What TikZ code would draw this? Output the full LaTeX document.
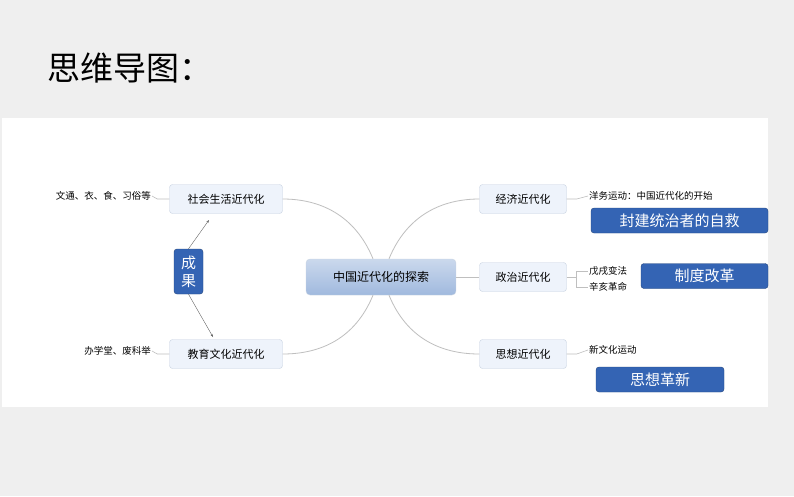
\documentclass[tikz,border=0pt]{standalone}
\usepackage{fontspec}
\setmainfont{Noto Sans CJK SC}
\usetikzlibrary{arrows.meta}
\definecolor{pagebg}{RGB}{239,239,239}
\definecolor{branchfill}{RGB}{238,243,251}
\definecolor{branchline}{RGB}{200,210,225}
\definecolor{rootfill}{RGB}{160,185,222}
\definecolor{tagblue}{RGB}{52,100,180}
\tikzset{
  branch/.style={draw=branchline,fill=branchfill,rounded corners=3pt,minimum width=113pt,minimum height=29pt,font=\fontsize{11}{13}\selectfont},
  rbranch/.style={branch,minimum width=87pt},
  leaf/.style={inner sep=1pt,font=\fontsize{9.5}{11}\selectfont},
  tag/.style={draw=tagblue!70!black,fill=tagblue,text=white,rounded corners=3pt,minimum height=25pt,font=\fontsize{15}{17}\selectfont},
  link/.style={draw=black!25,line width=0.8pt},
  stub/.style={draw=black!25,line width=0.6pt}
}
\begin{document}
\begin{tikzpicture}[x=1pt,y=-1pt]
\useasboundingbox (0,0) rectangle (794,496);
\fill[pagebg] (0,0) rectangle (794,496);
\fill[white] (2,118) rectangle (768,407);

% Title
\node[anchor=west,inner sep=0pt,font=\fontsize{33}{38}\selectfont] (title) at (47,68) {思维导图：};

% Root and branches
\node[draw=branchline,top color=rootfill!55,bottom color=rootfill,rounded corners=4pt,minimum width=150pt,minimum height=36pt,font=\fontsize{12}{14}\selectfont] (root) at (381,277) {中国近代化的探索};
\node[branch] (social) at (226,199) {社会生活近代化};
\node[branch] (edu) at (226,354) {教育文化近代化};
\node[rbranch] (econ) at (523,199) {经济近代化};
\node[rbranch] (polit) at (523,277) {政治近代化};
\node[rbranch] (thought) at (523,354) {思想近代化};

\draw[link] (root.north) ++(-8,0) .. controls (355,215) and (320,199) .. (social.east);
\draw[link] (root.south) ++(-8,0) .. controls (355,339) and (320,354) .. (edu.east);
\draw[link] (root.north) ++(8,0) .. controls (407,215) and (442,199) .. (econ.west);
\draw[link] (root.east) -- (polit.west);
\draw[link] (root.south) ++(8,0) .. controls (407,339) and (442,354) .. (thought.west);

% Leaves
\node[leaf,anchor=east] (customs) at (152,196) {文通、衣、食、习俗等};
\node[leaf,anchor=east] (school) at (152,351) {办学堂、废科举};
\node[leaf,anchor=west] (yangwu) at (588,196) {洋务运动：中国近代化的开始};
\node[leaf,anchor=west] (wuxu) at (588,271) {戊戌变法};
\node[leaf,anchor=west] (xinhai) at (588,287) {辛亥革命};
\node[leaf,anchor=west] (xinwen) at (588,350) {新文化运动};

\draw[stub] (social.west) -- ++(-12,0) -- (customs.east);
\draw[stub] (edu.west) -- ++(-12,0) -- (school.east);
\draw[stub] (econ.east) -- ++(10,0) -- (yangwu.west);
\draw[stub] (polit.east) -- ++(10,0) |- (wuxu.west);
\draw[stub] (polit.east) ++(10,0) |- (xinhai.west);
\draw[stub] (thought.east) -- ++(10,0) -- (xinwen.west);

% Tags
\node[tag,minimum width=177pt] (selfsave) at (679.5,220.5) {封建统治者的自救};
\node[tag,minimum width=127pt] (reform) at (704.5,276) {制度改革};
\node[tag,minimum width=128pt] (renew) at (660,379.5) {思想革新};
\node[tag,minimum width=29pt,minimum height=45pt,inner sep=1pt,align=center,font=\fontsize{15}{18}\selectfont] (result) at (188.5,271.5) {成\\果};

\draw[-{Stealth[length=3pt]},black!60,line width=0.4pt] (result.north) -- (209,220);
\draw[-{Stealth[length=3pt]},black!60,line width=0.4pt] (result.south) -- (213,337);
\end{tikzpicture}
\end{document}
